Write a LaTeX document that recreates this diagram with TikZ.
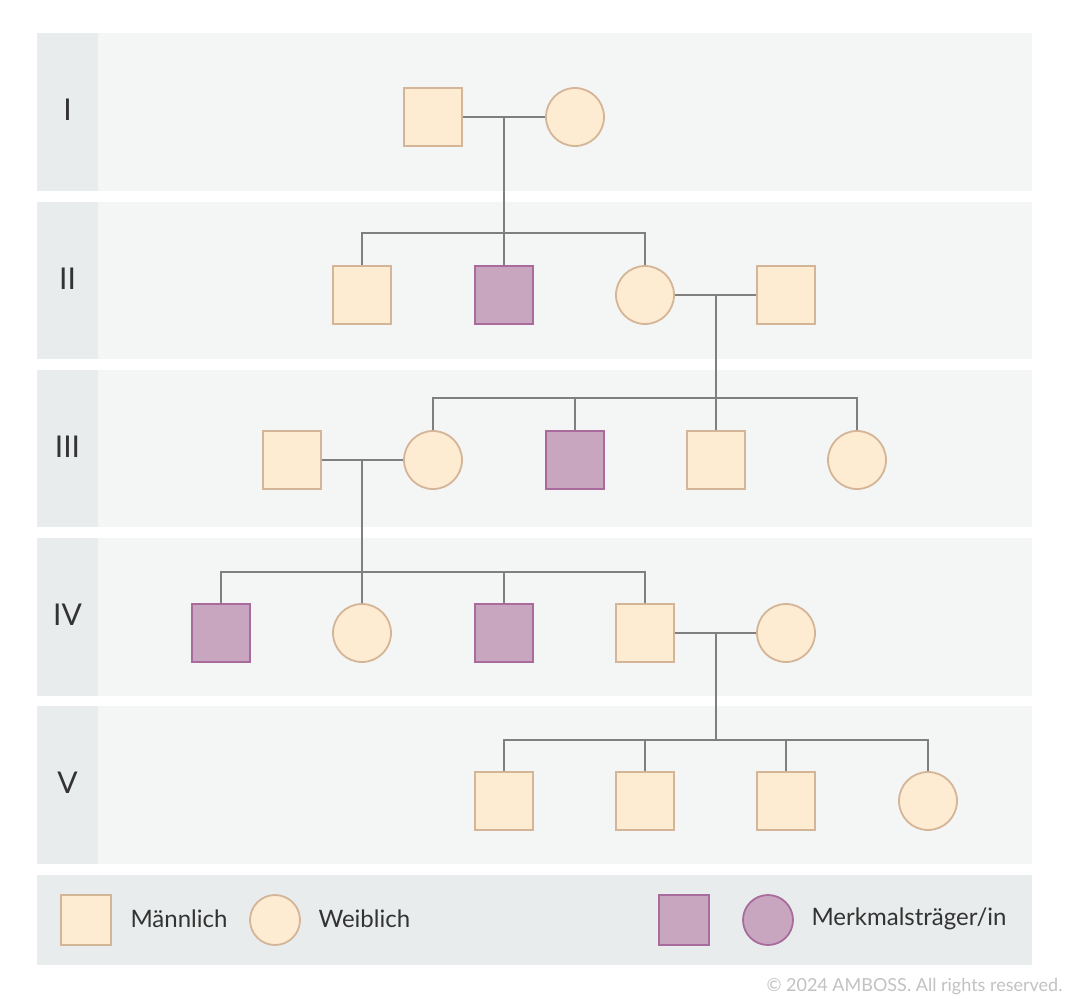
\documentclass[tikz,border=0pt]{standalone}
\usepackage{fontspec}
\setmainfont{Lato}
\definecolor{bandbg}{HTML}{F4F5F5}
\definecolor{labelbg}{HTML}{E9ECEC}
\definecolor{normfill}{HTML}{FDEBD2}
\definecolor{normdraw}{HTML}{D5B597}
\definecolor{affill}{HTML}{C9A6BF}
\definecolor{afdraw}{HTML}{A86B9C}
\definecolor{linegray}{HTML}{7F7F7F}
\definecolor{copygray}{HTML}{C2C2C2}
\definecolor{textgray}{HTML}{333333}
\tikzset{
  male/.style={rectangle, minimum size=58pt, inner sep=0pt, fill=normfill, draw=normdraw, line width=1.8pt},
  female/.style={circle, minimum size=58pt, inner sep=0pt, fill=normfill, draw=normdraw, line width=1.8pt},
  amale/.style={rectangle, minimum size=58pt, inner sep=0pt, fill=affill, draw=afdraw, line width=1.8pt},
  lmale/.style={male, minimum size=50pt},
  lfemale/.style={female, minimum size=50pt},
  lamale/.style={amale, minimum size=50pt},
  lafemale/.style={circle, minimum size=50pt, inner sep=0pt, fill=affill, draw=afdraw, line width=1.8pt},
  conn/.style={draw=linegray, line width=2pt},
  gen/.style={font=\fontsize{30}{30}\selectfont, text=textgray},
  legtext/.style={font=\fontsize{24}{24}\selectfont, text=textgray, anchor=west},
}
\begin{document}
\begin{tikzpicture}[x=1pt,y=-1pt]
\useasboundingbox (0,0) rectangle (1069,999);
\fill[white] (0,0) rectangle (1069,999);
% bands
\foreach \t/\b/\lab in {33/191/I,202/359/II,370/527/III,538/696/IV,706/864/V}{
  \fill[bandbg] (98,\t) rectangle (1032,\b);
  \fill[labelbg] (37,\t) rectangle (98,\b);
  \node[gen] at (67.5,{(\t+\b)/2-2}) {\lab};
}
\fill[labelbg] (37,875) rectangle (1032,965);
% generation I
\node[male] (I1) at (433,117) {};
\node[female] (I2) at (575,117) {};
% generation II
\node[male] (II1) at (362,295) {};
\node[amale] (II2) at (504,295) {};
\node[female] (II3) at (645,295) {};
\node[male] (II4) at (786,295) {};
% generation III
\node[male] (III1) at (292,460) {};
\node[female] (III2) at (433,460) {};
\node[amale] (III3) at (575,460) {};
\node[male] (III4) at (716,460) {};
\node[female] (III5) at (857,460) {};
% generation IV
\node[amale] (IV1) at (221,633) {};
\node[female] (IV2) at (362,633) {};
\node[amale] (IV3) at (504,633) {};
\node[male] (IV4) at (645,633) {};
\node[female] (IV5) at (786,633) {};
% generation V
\node[male] (V1) at (504,801) {};
\node[male] (V2) at (645,801) {};
\node[male] (V3) at (786,801) {};
\node[female] (V4) at (928,801) {};
% couples and descent
\coordinate (m1) at (504,117);
\coordinate (s2) at (504,233);
\draw[conn] (I1.east) -- (I2.west);
\draw[conn] (m1) -- (s2);
\draw[conn] (II1.north) |- (s2) -| (II3.north);
\draw[conn] (II2.north) -- (II2.north |- s2);
\coordinate (m2) at (716,295);
\coordinate (s3) at (716,398);
\draw[conn] (II3.east) -- (II4.west);
\draw[conn] (m2) -- (s3);
\draw[conn] (III2.north) |- (s3) -| (III5.north);
\draw[conn] (III3.north) -- (III3.north |- s3);
\draw[conn] (III4.north) -- (s3);
\coordinate (m3) at (362,460);
\coordinate (s4) at (362,572);
\draw[conn] (III1.east) -- (III2.west);
\draw[conn] (m3) -- (s4);
\draw[conn] (IV1.north) |- (s4) -| (IV4.north);
\draw[conn] (IV2.north) -- (s4);
\draw[conn] (IV3.north) -- (IV3.north |- s4);
\coordinate (m4) at (716,633);
\coordinate (s5) at (716,740);
\draw[conn] (IV4.east) -- (IV5.west);
\draw[conn] (m4) -- (s5);
\draw[conn] (V1.north) |- (s5) -| (V4.north);
\draw[conn] (V2.north) -- (V2.north |- s5);
\draw[conn] (V3.north) -- (V3.north |- s5);
% legend
\node[lmale] (L1) at (86,920) {};
\node[legtext] (L1t) at (127,919) {Männlich};
\node[lfemale] (L2) at (275,920) {};
\node[legtext] (L2t) at (315,919) {Weiblich};
\node[lamale] (L3) at (684,920) {};
\node[lafemale] (L4) at (768,920) {};
\node[legtext] (L4t) at (808,919) {Merkmalsträger/in};
\node[anchor=east, text=copygray, font=\fontsize{18}{18}\selectfont] (copy) at (1066,987) {© 2024 AMBOSS. All rights reserved.};
\end{tikzpicture}
\end{document}
